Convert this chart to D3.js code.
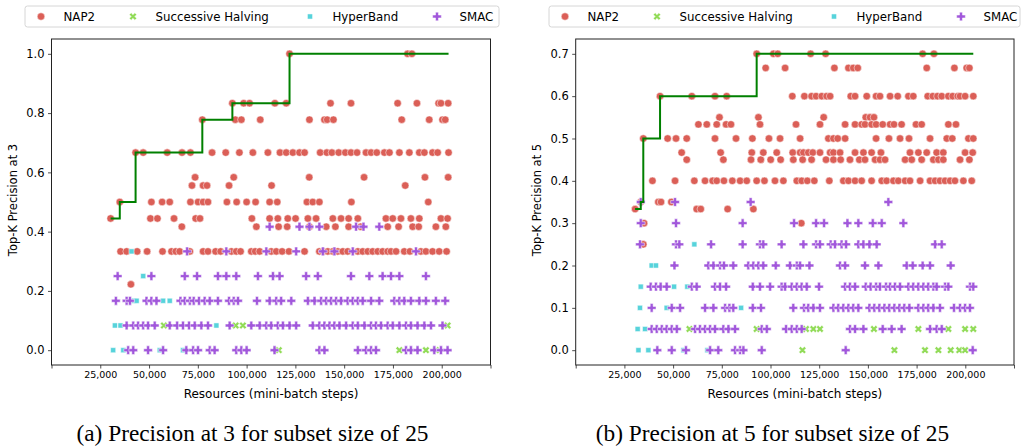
<!DOCTYPE html>
<html lang="en">
<head>
<meta charset="utf-8">
<title>Top-K precision vs resources</title>
<script src="https://cdn.jsdelivr.net/npm/d3@7"></script>
<style>
  body { margin: 0; background: #fff; }
  svg { display: block; font-family: "DejaVu Sans", sans-serif; }
</style>
</head>
<body>
<div id="chart"></div>
<script>
// resources are written in thousands of mini-batch steps; each row is [precision, [resources...]]

// ---- (a) precision at 3
var p3Nap2 = [
  [1,    [122.0, 182.5, 184.7]],
  [5/6,  [92.7, 98.5, 101.5, 114.5, 120.3, 143.0, 153.5, 177.4, 187.3, 198.4, 199.6, 203.3]],
  [7/9,  [77.3, 94.2, 97.3, 107.0, 132.2, 139.9, 141.3, 144.5, 179.5, 193.6, 200.4, 201.8]],
  [2/3,  [43.1, 47.0, 59.3, 66.9, 71.2, 82.3, 89.3, 96.3, 103.2, 110.9, 117.1, 120.3, 123.7, 127.1, 129.7, 137.7, 141.1, 143.7, 147.2, 150.6, 153.5, 156.6, 161.2, 163.8, 166.7, 170.6, 173.2, 178.3, 183.4, 188.5, 191.1, 195.3, 197.9, 203.5]],
  [7/12, [73.6, 93.4, 132.1, 160.2, 191.4, 203.3]],
  [5/9,  [72.0, 77.7, 79.7, 91.0, 112.8, 181.3]],
  [1/2,  [35.0, 51.2, 56.7, 60.6, 71.2, 75.1, 77.7, 80.2, 89.9, 94.9, 100.0, 104.6, 111.8, 115.7, 130.9, 133.9, 137.3, 153.7, 193.1]],
  [4/9,  [30.3, 50.7, 54.3, 62.8, 73.9, 76.1, 102.7, 111.8, 116.0, 121.1, 125.1, 131.4, 135.6, 144.2, 148.4, 152.3, 157.0, 171.4, 174.9, 179.1, 184.2, 188.5, 199.6, 203.0]],
  [5/12, [66.8, 105.0, 116.4, 120.8, 132.2, 140.8, 145.5, 152.3, 158.5, 172.3, 177.9, 185.1, 188.2, 197.0, 202.1]],
  [1/3,  [35.4, 38.5, 43.9, 49.0, 56.9, 61.5, 63.7, 65.7, 70.9, 77.7, 80.2, 84.1, 86.7, 92.2, 94.7, 96.9, 102.4, 104.4, 106.7, 112.6, 115.2, 118.2, 121.7, 129.7, 137.3, 139.1, 141.6, 144.2, 146.7, 149.3, 151.8, 157.0, 159.5, 162.1, 164.6, 167.2, 169.7, 172.3, 174.0, 176.6, 180.8, 183.7, 189.3, 191.9, 195.3, 198.7, 202.5]],
  [2/9,  [40.7]]
];
var p3SH = [
  [1/12, [57.6, 94.4, 98.1, 203.0]],
  [0,    [116.5, 178.3, 191.9, 197.0]]
];
var p3HB = [
  [1/3,  [41.0]],
  [1/4,  [47.0]],
  [1/6,  [42.2, 43.6, 57.2, 60.6]],
  [1/12, [32.5, 35.4, 84.5]],
  [0,    [31.6, 36.8, 55.5, 67.4]]
];
var p3Smac = [
  [5/12, [111.8, 127.1, 132.2, 137.3, 156.1, 159.9, 168.0]],
  [1/3,  [69.5, 89.6, 110.1, 125.4, 139.1, 145.0, 154.4, 186.8]],
  [1/4,  [33.9, 51.2, 68.3, 74.6, 85.3, 89.6, 94.7, 105.8, 113.5, 116.9, 130.5, 136.5, 153.5, 162.9, 169.7, 174.0, 178.3, 191.9]],
  [1/6,  [33.0, 38.5, 40.2, 48.7, 51.2, 53.8, 66.1, 68.3, 70.9, 72.9, 75.6, 78.5, 81.1, 85.3, 91.0, 93.4, 95.6, 105.3, 111.8, 115.2, 117.7, 122.9, 131.4, 134.8, 138.2, 140.8, 143.3, 145.9, 148.4, 151.8, 154.4, 157.0, 159.5, 163.8, 168.0, 175.7, 178.3, 180.8, 184.2, 188.5, 191.9, 197.0, 201.8]],
  [1/12, [38.5, 41.9, 44.4, 47.0, 49.5, 52.9, 60.6, 64.4, 67.4, 70.5, 73.4, 76.8, 80.2, 91.3, 102.4, 106.7, 110.1, 112.6, 116.0, 118.6, 122.0, 125.4, 133.9, 137.3, 139.9, 142.5, 145.0, 147.6, 151.0, 154.4, 157.0, 160.4, 163.8, 166.3, 168.9, 172.3, 174.9, 178.3, 181.7, 184.2, 187.6, 191.1, 194.5, 200.4]],
  [0,    [39.3, 41.9, 49.5, 57.2, 69.1, 72.6, 75.1, 81.1, 83.6, 94.7, 97.3, 100.0, 114.3, 137.3, 139.9, 157.0, 161.2, 163.8, 166.3, 181.7, 184.2, 187.6, 196.2, 199.6, 203.0]]
];

// ---- (b) precision at 5
var p5Nap2 = [
  [0.7,  [92.9, 101.5, 103.7, 120.6, 128.3, 178.1, 183.9]],
  [2/3,  [97.5, 107.5, 132.8, 140.0, 142.5, 144.8, 180.2, 194.4, 200.7, 202.1]],
  [0.6,  [43.3, 59.6, 71.5, 77.5, 111.2, 117.4, 121.1, 123.4, 126.3, 128.8, 130.6, 141.2, 143.4, 149.4, 154.2, 156.2, 161.4, 165.3, 170.8, 173.3, 180.7, 183.3, 185.7, 187.9, 191.3, 193.5, 196.1, 197.3, 199.9, 204.1]],
  [0.55, [73.8, 93.8, 127.3, 148.9, 151.1, 153.1]],
  [8/15, [63.0, 67.3, 72.4, 77.2, 79.7, 94.6, 113.1, 125.4, 138.3, 143.4, 146.8, 148.5, 151.9, 154.2, 157.6, 161.4, 163.4, 167.3, 174.7, 177.6, 191.3, 195.2]],
  [0.5,  [34.7, 47.2, 51.5, 57.0, 71.5, 82.3, 90.7, 99.2, 104.9, 115.2, 129.7, 132.3, 134.5, 138.3, 154.2, 160.8, 166.5, 171.1, 181.9, 190.5, 193.3, 201.6, 204.1]],
  [7/15, [54.4, 74.4, 90.4, 96.3, 103.2, 111.4, 115.2, 116.9, 119.4, 121.7, 125.4, 130.6, 132.3, 135.7, 143.4, 147.7, 151.9, 156.7, 171.6, 175.9, 180.2, 185.3, 188.7, 199.9, 203.8]],
  [0.45, [57.0, 75.8, 90.0, 95.0, 100.1, 105.2, 111.7, 116.5, 121.1, 128.5, 132.3, 136.0, 140.8, 145.6, 148.5, 153.7, 156.2, 158.8, 169.1, 172.5, 177.6, 183.6, 186.2, 188.7, 197.3, 202.1]],
  [0.4,  [39.4, 51.0, 60.9, 66.4, 70.3, 72.4, 76.1, 80.4, 84.4, 87.8, 92.9, 96.9, 102.3, 106.6, 113.5, 116.0, 118.9, 122.5, 130.2, 137.4, 140.0, 143.4, 146.8, 151.9, 157.1, 159.6, 163.1, 165.6, 169.1, 171.6, 176.8, 181.9, 184.5, 187.0, 189.6, 192.2, 194.7, 199.0, 203.3]],
  [0.35, [33.4, 42.4, 43.8, 49.1]],
  [1/3,  [30.5, 62.1, 64.2, 78.0, 91.2]],
  [0.3,  [35.1, 115.8]],
  [0.25, [34.7]]
];
var p5SH = [
  [0.05, [58.4, 92.9, 118.2, 122.0, 125.4, 153.1, 175.9, 191.3, 199.9, 204.1]],
  [0,    [116.4, 163.6, 179.3, 186.2, 192.5, 196.9, 199.9]]
];
var p5HB = [
  [0.25, [60.9]],
  [0.2,  [39.0, 41.2]],
  [0.15, [33.4, 50.5, 57.3]],
  [0.1,  [33.0, 46.7, 84.9]],
  [0.05, [31.8, 35.6]],
  [0,    [32.2, 37.3, 55.3, 67.6]]
];
var p5Smac = [
  [0.35, [33.4, 51.0, 89.8, 160.5]],
  [0.3,  [33.4, 51.5, 85.7, 112.1, 123.4, 127.5, 139.5, 145.1, 152.5, 157.1, 168.2]],
  [0.25, [33.0, 51.5, 53.2, 69.5, 85.7, 94.6, 96.3, 105.7, 116.9, 123.4, 125.4, 130.9, 133.1, 136.5, 138.8, 145.1, 147.7, 150.8, 154.5, 184.5, 187.9]],
  [0.2,  [50.7, 68.1, 70.7, 74.1, 76.1, 80.9, 88.6, 91.2, 93.8, 96.3, 102.7, 110.0, 113.5, 115.2, 120.0, 135.7, 138.3, 148.5, 155.4, 169.9, 173.0, 178.1, 181.9, 192.5]],
  [0.15, [38.5, 41.2, 43.6, 46.7, 59.6, 62.1, 71.5, 74.1, 77.2, 90.9, 94.6, 99.8, 105.7, 107.5, 110.9, 113.5, 116.0, 118.6, 124.9, 138.3, 140.8, 143.4, 148.9, 151.4, 154.2, 156.2, 159.3, 161.4, 163.9, 166.5, 170.8, 173.3, 175.9, 178.5, 181.0, 183.6, 185.3, 189.6, 191.3, 202.4, 204.1]],
  [0.1,  [39.0, 49.3, 53.6, 66.4, 70.7, 76.7, 78.9, 80.9, 90.9, 95.1, 111.7, 117.2, 119.4, 122.0, 125.4, 132.3, 134.8, 137.4, 140.0, 142.5, 145.1, 150.8, 153.3, 155.9, 158.5, 161.0, 163.6, 166.2, 168.7, 171.3, 175.9, 178.5, 181.0, 183.6, 187.0, 194.2, 197.3, 199.9, 202.4]],
  [0.05, [39.0, 41.6, 44.2, 46.7, 49.3, 51.9, 61.3, 63.8, 66.4, 69.0, 71.5, 75.8, 78.4, 81.8, 95.5, 98.1, 108.0, 110.9, 113.5, 116.0, 140.8, 143.4, 147.7, 157.6, 162.2, 167.3, 181.9, 185.3, 187.9]],
  [0,    [41.9, 49.3, 56.6, 69.0, 73.2, 81.8, 84.4, 86.1, 95.5, 138.6, 203.8]]
];

var methodNames = ["NAP2", "Successive Halving", "HyperBand", "SMAC"];
var methodColors = ["#db5f57", "#91db57", "#57d3db", "#a157db"];
var xTicks = [0, 25000, 50000, 75000, 100000, 125000, 150000, 175000, 200000, 225000];
var yTicksA = [0, 0.2, 0.4, 0.6, 0.8, 1.0];
var yTicksB = [0, 0.1, 0.2, 0.3, 0.4, 0.5, 0.6, 0.7];

var W = 1022, H = 446;
var svg = d3.select("#chart").append("svg").attr("width", W).attr("height", H);

// marker shapes: circle, X, square, filled plus
var markers = [
  d3.symbol().type(d3.symbolCircle).size(44)(),
  d3.symbol().type(d3.symbolCross).size(34)(),
  d3.symbol().type(d3.symbolSquare).size(26)(),
  d3.symbol().type(d3.symbolCross).size(42)()
];
var markerRot = [0, 45, 0, 0];

function flatten(rows) {
  var out = [];
  rows.forEach(function(r) {
    r[1].forEach(function(k) { out.push({x: k * 1000, y: r[0]}); });
  });
  return out;
}

function drawPanel(p) {
  var g = svg.append("g");
  var x = d3.scaleLinear().domain([0, 225000]).range([p.left, p.right]);
  var y = d3.scaleLinear().domain(p.yDomain).range([365, 39]);

  // axes
  var xa = g.append("g").attr("transform", "translate(0,365)")
    .call(d3.axisBottom(x).tickValues(xTicks).tickSize(3.5).tickPadding(3)
      .tickFormat(function(d) { return (d == 0 || d == 225000) ? "" : d3.format(",")(d); }));
  xa.attr("font-family", "DejaVu Sans");
  xa.selectAll("text").style("font-size", "9.5px").attr("fill", "#000");
  var ya = g.append("g").attr("transform", "translate(" + p.left + ",0)")
    .call(d3.axisLeft(y).tickValues(p.yTicks).tickSize(3.5).tickPadding(3.5).tickFormat(d3.format(".1f")));
  ya.attr("font-family", "DejaVu Sans");
  ya.selectAll("text").style("font-size", "11.5px").attr("fill", "#000");
  g.selectAll(".domain").remove();
  g.selectAll(".tick line").attr("stroke", "#222").attr("stroke-width", 0.8);

  // points
  p.series.forEach(function(rows, i) {
    g.append("g").selectAll("path").data(flatten(rows)).enter().append("path")
      .attr("d", markers[i])
      .attr("transform", function(d) { return "translate(" + x(d.x) + "," + y(d.y) + ") rotate(" + markerRot[i] + ")"; })
      .attr("fill", methodColors[i])
      .attr("stroke", "#fff")
      .attr("stroke-width", 0.5);
  });

  // best-so-far line of NAP2
  var pts = flatten(p.series[0]).sort(function(a, b) { return a.x - b.x; });
  var best = [], m = -1;
  pts.forEach(function(d) {
    if (d.y > m) { m = d.y; best.push({x: d.x, y: m}); }
  });
  var xEnd = d3.max(p.series, function(rows) { return d3.max(rows, function(r) { return d3.max(r[1]); }); }) * 1000;
  best.push({x: xEnd, y: m});
  g.append("path").datum(best)
    .attr("d", d3.line().x(function(d) { return x(d.x); }).y(function(d) { return y(d.y); }).curve(d3.curveStepAfter))
    .attr("fill", "none").attr("stroke", "#008000").attr("stroke-width", 2);

  // frame
  g.append("rect").attr("x", p.left).attr("y", 39).attr("width", p.right - p.left).attr("height", 326)
    .attr("fill", "none").attr("stroke", "#222").attr("stroke-width", 1);

  // labels
  g.append("text").attr("x", (p.left + p.right) / 2).attr("y", 397.5)
    .attr("text-anchor", "middle").style("font-size", "12px").text("Resources (mini-batch steps)");
  g.append("text").attr("transform", "translate(" + p.ylabX + ",200) rotate(-90)")
    .attr("text-anchor", "middle").attr("dy", "0.35em").style("font-size", "11.5px").text(p.ylabel);
  g.append("text").attr("x", p.capX).attr("y", 441).attr("text-anchor", "middle")
    .style("font-family", "'Liberation Serif', serif").style("font-size", "23.3px").text(p.caption);

  // legend
  var lg = g.append("g").attr("transform", "translate(" + p.legX + ",6)");
  lg.append("rect").attr("width", p.legW).attr("height", 21).attr("rx", 2.5)
    .attr("fill", "#fff").attr("stroke", "#d6d6d6").attr("stroke-width", 1);
  var offs = [16, 108, 285, 412];
  methodNames.forEach(function(name, i) {
    lg.append("path").attr("d", markers[i])
      .attr("transform", "translate(" + offs[i] + ",10.5) rotate(" + markerRot[i] + ")")
      .attr("fill", methodColors[i]).attr("stroke", "#fff").attr("stroke-width", 0.5);
    lg.append("text").attr("x", offs[i] + 22.5).attr("y", 10.5).attr("dy", "0.35em")
      .style("font-size", "11.8px").text(name);
  });
}

drawPanel({left: 51.5, right: 490.5, yDomain: [-0.05, 1.05], yTicks: yTicksA,
  series: [p3Nap2, p3SH, p3HB, p3Smac], ylabel: "Top-K Precision at 3", ylabX: 13,
  caption: "(a) Precision at 3 for subset size of 25", capX: 252.5, legX: 25, legW: 474});
drawPanel({left: 575.7, right: 1014, yDomain: [-0.035, 0.735], yTicks: yTicksB,
  series: [p5Nap2, p5SH, p5HB, p5Smac], ylabel: "Top-K Precision at 5", ylabX: 537,
  caption: "(b) Precision at 5 for subset size of 25", capX: 772.5, legX: 549, legW: 471});
</script>
</body>
</html>
